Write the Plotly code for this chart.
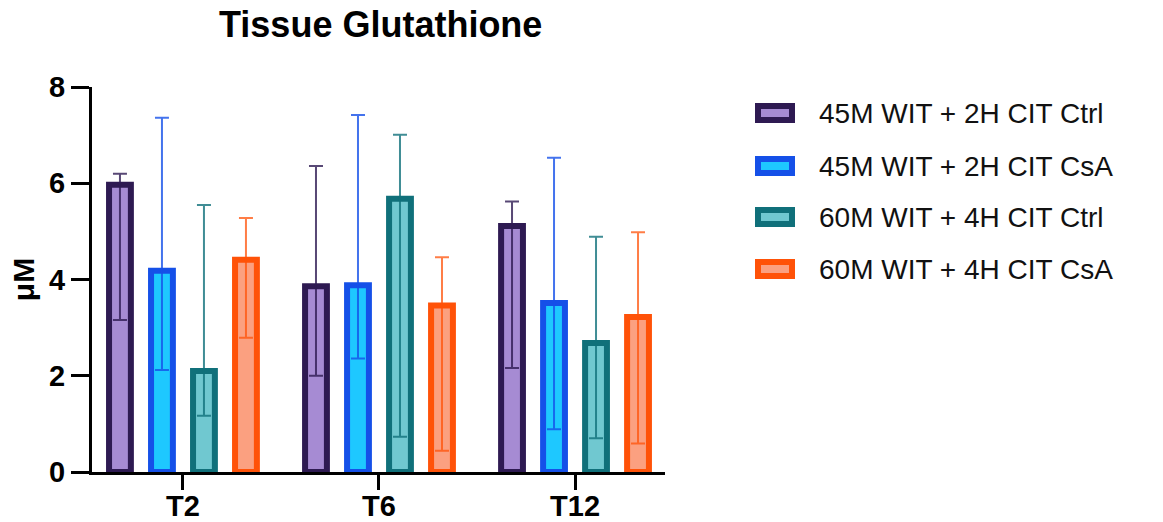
import plotly.graph_objects as go

# ---------------- data ----------------
groups = ["T2", "T6", "T12"]
series_names = ["45M WIT + 2H CIT Ctrl", "45M WIT + 2H CIT CsA",
                "60M WIT + 4H CIT Ctrl", "60M WIT + 4H CIT CsA"]

ctrl45 = [5.97, 3.86, 5.11]
ctrl45_hi = [6.20, 6.36, 5.62]
ctrl45_lo = [3.16, 2.00, 2.16]

csa45 = [4.18, 3.88, 3.51]
csa45_hi = [7.36, 7.42, 6.53]
csa45_lo = [2.12, 2.36, 0.89]

ctrl60 = [2.10, 5.68, 2.68]
ctrl60_hi = [5.55, 7.01, 4.89]
ctrl60_lo = [1.17, 0.73, 0.70]

csa60 = [4.41, 3.46, 3.22]
csa60_hi = [5.28, 4.46, 4.98]
csa60_lo = [2.79, 0.44, 0.59]

y_ticks = [0, 2, 4, 6, 8]

# ---------------- style ----------------
line_colors = ["#2E1A52", "#1550E8", "#10707A", "#FF5208"]
fill_colors = ["#A68BD3", "#1EC8FF", "#70C8D0", "#FBA080"]
err_colors = ["rgba(46,26,82,0.8)", "rgba(21,80,232,0.8)",
              "rgba(16,112,122,0.8)", "rgba(255,82,8,0.75)"]

W, H = 1163, 522
PL, PR, PT, PB = 92, 665, 87, 472  # plot area in pixels
FONT = "Liberation Sans, Arial, sans-serif"

values = [ctrl45, csa45, ctrl60, csa60]
highs = [ctrl45_hi, csa45_hi, ctrl60_hi, csa60_hi]
lows = [ctrl45_lo, csa45_lo, ctrl60_lo, csa60_lo]

fig = go.Figure()
for i in range(4):
    v, hi, lo = values[i], highs[i], lows[i]
    fig.add_trace(go.Bar(
        x=groups, y=v, name=series_names[i],
        marker=dict(color=fill_colors[i], line=dict(color=line_colors[i], width=6)),
        error_y=dict(type="data", symmetric=False,
                     array=[h - a for h, a in zip(hi, v)],
                     arrayminus=[a - l for a, l in zip(v, lo)],
                     color=err_colors[i], thickness=2, width=7),
        showlegend=False,
    ))

def px_x(p):
    return (p - PL) / (PR - PL)

def px_y(p):
    return (PB - p) / (PB - PT)

shapes = []
annotations = []
leg_y = [113, 166, 217, 269]
for i in range(4):
    yc = leg_y[i]
    shapes.append(dict(type="rect", xref="paper", yref="paper",
                       x0=px_x(758), x1=px_x(792), y0=px_y(yc + 7), y1=px_y(yc - 7),
                       fillcolor=fill_colors[i],
                       line=dict(color=line_colors[i], width=6)))
    annotations.append(dict(xref="paper", yref="paper", x=px_x(817), y=px_y(yc),
                            xanchor="left", yanchor="middle", showarrow=False,
                            text=series_names[i],
                            font=dict(family=FONT, size=28, color="#111111")))

annotations.append(dict(xref="paper", yref="paper", x=px_x(380), y=px_y(24),
                        xanchor="center", yanchor="middle", showarrow=False,
                        text="<b>Tissue Glutathione</b>",
                        font=dict(family=FONT, size=36, color="#000000")))

fig.update_layout(
    width=W, height=H,
    margin=dict(l=PL, r=W - PR, t=PT, b=H - PB, pad=0, autoexpand=False),
    paper_bgcolor="white", plot_bgcolor="white",
    barmode="group", bargap=0.143, bargroupgap=0.48,
    shapes=shapes, annotations=annotations,
    font=dict(family=FONT, color="#000000"),
)
fig.update_xaxes(
    range=[-0.464, 2.459], showline=True, linecolor="black", linewidth=3,
    ticks="outside", ticklen=15, tickwidth=3, tickcolor="black",
    tickfont=dict(family=FONT, size=29, color="black"),
    tickprefix="<b>", ticksuffix="</b>", showgrid=False, zeroline=False,
    automargin=False, ticklabelstandoff=-9,
)
fig.update_yaxes(
    range=[0, 8], tickvals=y_ticks, ticktext=[f"<b>{t}</b>" for t in y_ticks],
    showline=True, linecolor="black", linewidth=3,
    ticks="outside", ticklen=18, tickwidth=3, tickcolor="black",
    tickfont=dict(family=FONT, size=29, color="black"),
    title=dict(text="<b>μM</b>", font=dict(family=FONT, size=30, color="black"), standoff=6),
    showgrid=False, zeroline=False, automargin=False,
)

fig.write_html("out.html")
